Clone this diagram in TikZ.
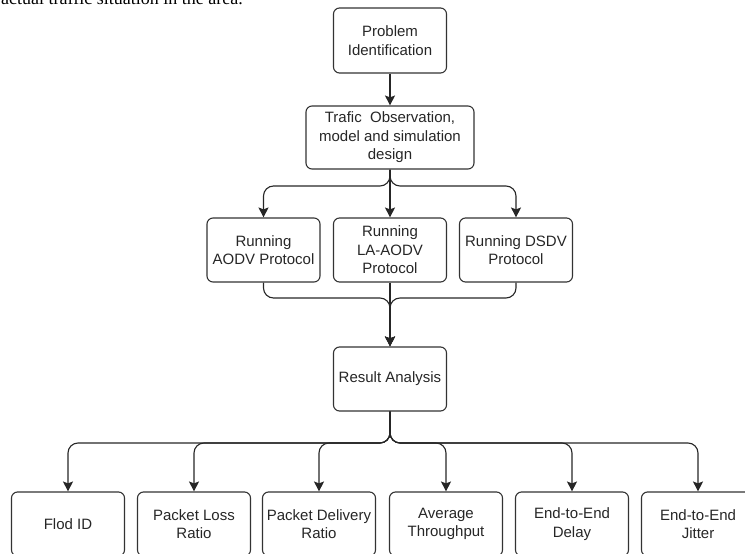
\documentclass[tikz,border=0pt]{standalone}
\usepackage{fontspec}
\setsansfont{Liberation Sans}
\newfontfamily\serifline{Liberation Serif}
\usepackage{tikz}
\usetikzlibrary{arrows.meta}

\begin{document}
\begin{tikzpicture}[x=1pt,y=-1pt]
  \tikzstyle{box}=[rectangle, rounded corners=6pt, draw=black!80, line width=1.1pt,
text=black!85, minimum width=113pt, minimum height=64pt, inner sep=0pt, align=center,
font=\sffamily\fontsize{15}{18.6}\selectfont]
  \tikzstyle{link}=[draw=black!85, line width=1.1pt, rounded corners=10pt,
-{Stealth[length=10pt,width=10pt,inset=2pt]}]
  \clip (0,0) rectangle (745,554);

  \node[anchor=base west, inner sep=0pt, font=\serifline\fontsize{18}{22}\selectfont] (T_0) at (1,4.5)
    {actual traffic situation in the area.};

  \node[box, minimum height=65pt] (S_1) at (390,40.5) {Problem\\Identification};
  \node[box, minimum width=168pt, minimum height=63pt] (S_2) at (390,137.5)
    {Trafic\ \ Observation,\\model and simulation\\design};

  \node[box] (R_1) at (263.5,250) {Running\\AODV Protocol};
  \node[box] (R_2) at (390,250) {Running\\LA-AODV\\Protocol};
  \node[box] (R_3) at (516,250) {Running DSDV\\Protocol};

  \node[box] (A_1) at (390,379) {Result Analysis};

  \node[box] (M_1) at (68,524)  {Flod ID};
  \node[box] (M_2) at (194,524) {Packet Loss\\Ratio};
  \node[box] (M_3) at (319,524) {Packet Delivery\\Ratio};
  \node[box] (M_4) at (446,524) {Average\\Throughput};
  \node[box] (M_5) at (572,524) {End-to-End\\Delay};
  \node[box] (M_6) at (698,524) {End-to-End\\Jitter};

  \coordinate (J_1) at (390,186);
  \coordinate (J_2) at (390,298);
  \coordinate (J_3) at (390,443);

  \draw[link] (S_1) -- (S_2);
  \draw[link] (S_2) -- (J_1) -| (R_1);
  \draw[link] (S_2) -- (R_2);
  \draw[link] (S_2) -- (J_1) -| (R_3);

  \draw[link] (R_1) |- (J_2) -- (A_1);
  \draw[link] (R_2) -- (A_1);
  \draw[link] (R_3) |- (J_2) -- (A_1);

  \foreach \i in {1,...,6}
    \draw[link] (A_1) -- (J_3) -| (M_\i);
\end{tikzpicture}
\end{document}
